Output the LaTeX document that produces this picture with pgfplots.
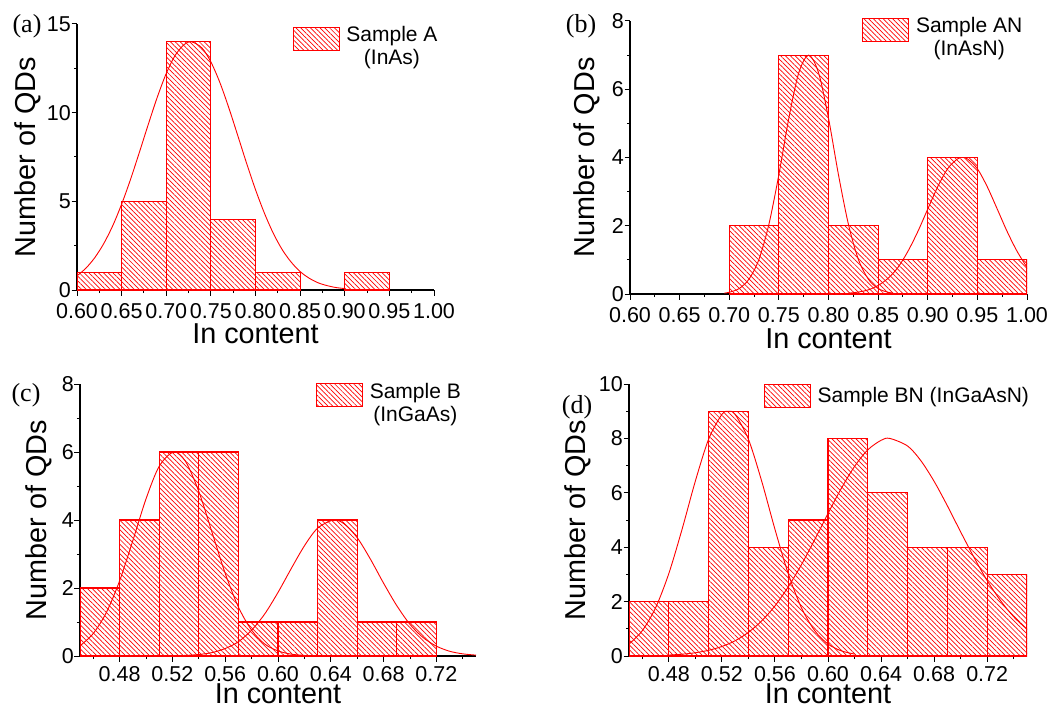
\documentclass[border=0pt]{standalone}
\usepackage{fontspec}
\setmainfont{Liberation Sans}
\newfontfamily\timesf{Liberation Serif}
\usepackage{pgfplots}
\pgfplotsset{compat=1.18}
\usetikzlibrary{patterns.meta}

\pgfplotsset{
  qd/.style={
    scale only axis,
    axis lines*=left,
    tick align=outside,
    axis line style={line width=1.2pt},
    major tick length=5.5pt, minor tick length=3pt,
    tick style={line width=1pt, black},
    ymin=0,
    tick label style={font=\fontsize{21.5}{24}\selectfont},
    label style={font=\fontsize{28.8}{32}\selectfont, inner sep=0pt},
    /pgf/number format/assume math mode=true,
    x tick label style={/pgf/number format/.cd, fixed, fixed zerofill, precision=2, /tikz/.cd,
      anchor=base, inner sep=0.5pt},
    y tick label style={inner xsep=0.5pt},
    xlabel={In content},
    ylabel={Number of QDs},
    legend style={draw=none, fill=none, inner sep=0pt, outer sep=0pt,
      font=\fontsize{21}{22.6}\selectfont,
      nodes={align=center, inner sep=0pt}, column sep=6.7pt, anchor=north west},
    legend image code/.code={\draw[##1] (0pt,-4pt) rectangle (46pt,19pt);},
  },
  xlab/.style={xlabel style={at={(axis description cs:0.5,0)}, anchor=base, yshift=-#1}},
  ylab/.style={ylabel style={at={(axis description cs:#1,0.5)}, anchor=base}},
  xtl/.style={x tick label style={yshift=-#1}},
  bars/.style={ybar, bar width=#1, bar shift=0pt, draw=red, line width=1.1pt,
    pattern={Lines[angle=-45,distance=3.4pt,line width=0.7pt]}, pattern color=red},
  fit/.style={red, line width=0.9pt, smooth, no markers, forget plot},
}

\begin{document}
\begin{tikzpicture}
\useasboundingbox (0pt,0pt) rectangle (1059pt,-708pt);

% (a) Sample A
\begin{axis}[qd, at={(77pt,-290pt)}, anchor=south west, width=357pt, height=266pt,
  xmin=0.6, xmax=1.0, ymax=15, xlab=53.5pt, ylab=-0.115, xtl=23pt,
  xtick={0.60,0.65,0.70,0.75,0.80,0.85,0.90,0.95,1.00},
  minor xtick={0.625,0.675,0.725,0.775,0.825,0.875,0.925,0.975},
  ytick={0,5,10,15}, minor ytick={2.5,7.5,12.5},
  legend style={at={(0.604,0.99)}}]
\addplot[bars=0.05] coordinates {(0.625,1) (0.675,5) (0.725,14) (0.775,4) (0.825,1) (0.925,1)};
\addlegendentry{Sample A\\(InAs)}
\addplot[fit] coordinates {(0.60,0.80) (0.61,1.23) (0.62,1.83) (0.63,2.62) (0.64,3.62) (0.65,4.84)
  (0.66,6.24) (0.67,7.78) (0.68,9.36) (0.69,10.88) (0.70,12.21) (0.71,13.23) (0.72,13.84) (0.728,14.0)
  (0.74,13.65) (0.75,12.86) (0.76,11.71) (0.77,10.29) (0.78,8.73) (0.79,7.15) (0.80,5.66) (0.81,4.33)
  (0.82,3.19) (0.83,2.27) (0.84,1.57) (0.85,1.04) (0.86,0.67) (0.87,0.41) (0.88,0.25) (0.89,0.14) (0.90,0.08)};
\end{axis}

% (b) Sample AN
\begin{axis}[qd, at={(630pt,-294pt)}, anchor=south west, width=397pt, height=273pt,
  xmin=0.6, xmax=1.0, ymax=8, xlab=54pt, ylab=-0.09, xtl=23pt,
  xtick={0.60,0.65,0.70,0.75,0.80,0.85,0.90,0.95,1.00},
  minor xtick={0.625,0.675,0.725,0.775,0.825,0.875,0.925,0.975},
  ytick={0,2,4,6,8}, minor ytick={1,3,5,7},
  legend style={at={(0.585,1.012)}}]
\addplot[bars=0.05] coordinates {(0.725,2) (0.775,7) (0.825,2) (0.875,1) (0.925,4) (0.975,1)};
\addlegendentry{Sample AN\\(InAsN)}
\addplot[fit] coordinates {(0.695,0.027) (0.70,0.051) (0.71,0.16) (0.72,0.44) (0.73,1.02) (0.74,2.05)
  (0.75,3.50) (0.76,5.15) (0.77,6.48) (0.78,7.0) (0.79,6.48) (0.80,5.15) (0.81,3.50) (0.82,2.05)
  (0.83,1.02) (0.84,0.44) (0.85,0.16) (0.86,0.051) (0.865,0.027)};
\addplot[fit] coordinates {(0.82,0.024) (0.83,0.057) (0.84,0.12) (0.85,0.25) (0.86,0.46) (0.87,0.78)
  (0.88,1.25) (0.89,1.83) (0.90,2.49) (0.91,3.14) (0.92,3.67) (0.93,3.96) (0.935,4.0) (0.94,3.96)
  (0.95,3.67) (0.96,3.14) (0.97,2.49) (0.98,1.83) (0.99,1.25) (1.00,0.78)};
\end{axis}

% (c) Sample B
\begin{axis}[qd, at={(80pt,-656pt)}, anchor=south west, width=396pt, height=272pt,
  xmin=0.45, xmax=0.75, ymax=8, xlab=47.5pt, ylab=-0.085, xtl=20pt,
  xtick={0.48,0.52,0.56,0.60,0.64,0.68,0.72},
  minor xtick={0.46,0.50,0.54,0.58,0.62,0.66,0.70,0.74},
  ytick={0,2,4,6,8}, minor ytick={1,3,5,7},
  legend style={at={(0.596,1.003)}}]
\addplot[bars=0.03] coordinates {(0.465,2) (0.495,4) (0.525,6) (0.555,6) (0.585,1) (0.615,1)
  (0.645,4) (0.675,1) (0.705,1)};
\addlegendentry{Sample B\\(InGaAs)}
\addplot[fit] coordinates {(0.45,0.30) (0.46,0.66) (0.47,1.28) (0.48,2.21) (0.49,3.39) (0.50,4.62)
  (0.51,5.58) (0.521,6.0) (0.53,5.72) (0.54,4.84) (0.55,3.64) (0.56,2.43) (0.57,1.44) (0.58,0.76)
  (0.59,0.35) (0.60,0.15) (0.61,0.054) (0.62,0.018)};
\addplot[fit] coordinates {(0.51,0.002) (0.52,0.006) (0.53,0.018) (0.54,0.044) (0.55,0.10) (0.56,0.22)
  (0.57,0.42) (0.58,0.76) (0.59,1.24) (0.60,1.87) (0.61,2.57) (0.62,3.24) (0.63,3.76) (0.642,4.0)
  (0.65,3.89) (0.66,3.48) (0.67,2.85) (0.68,2.14) (0.69,1.48) (0.70,0.93) (0.71,0.54) (0.72,0.29)
  (0.73,0.14) (0.74,0.063) (0.75,0.026)};
\end{axis}

% (d) Sample BN
\begin{axis}[qd, at={(629pt,-656pt)}, anchor=south west, width=398pt, height=272pt,
  xmin=0.45, xmax=0.75, ymax=10, xlab=47.5pt, ylab=-0.11, xtl=20pt,
  xtick={0.48,0.52,0.56,0.60,0.64,0.68,0.72},
  minor xtick={0.46,0.50,0.54,0.58,0.62,0.66,0.70,0.74},
  ytick={0,2,4,6,8,10}, minor ytick={1,3,5,7,9},
  legend image code/.code={\draw[#1] (0pt,-12pt) rectangle (46pt,11pt);},
  legend style={at={(0.339,1.0)}}]
\addplot[bars=0.03] coordinates {(0.465,2) (0.495,2) (0.525,9) (0.555,4) (0.585,5) (0.615,8)
  (0.645,6) (0.675,4) (0.705,4) (0.735,3)};
\addlegendentry{Sample BN (InGaAsN)}
\addplot[fit] coordinates {(0.45,0.44) (0.46,0.93) (0.47,1.77) (0.48,3.03) (0.49,4.66) (0.50,6.43)
  (0.51,7.97) (0.52,8.88) (0.525,9.0) (0.53,8.88) (0.54,7.97) (0.55,6.43) (0.56,4.66) (0.57,3.03)
  (0.58,1.77) (0.59,0.93) (0.60,0.44) (0.61,0.19) (0.62,0.07)};
\addplot[fit] coordinates {(0.48,0.035) (0.49,0.066) (0.50,0.12) (0.51,0.21) (0.52,0.35) (0.53,0.56)
  (0.54,0.87) (0.55,1.29) (0.56,1.84) (0.57,2.54) (0.58,3.36) (0.59,4.28) (0.60,5.24) (0.61,6.16)
  (0.62,6.97) (0.63,7.58) (0.64,7.93) (0.6465,8.0) (0.66,7.72) (0.67,7.18) (0.68,6.42) (0.69,5.52)
  (0.70,4.56) (0.71,3.63) (0.72,2.77) (0.73,2.04) (0.74,1.44) (0.75,0.98)};
\end{axis}

\node[font=\timesf\fontsize{26}{28}\selectfont] at (27pt,-26pt) {(a)};
\node[font=\timesf\fontsize{26}{28}\selectfont] at (581pt,-26pt) {(b)};
\node[font=\timesf\fontsize{26}{28}\selectfont] at (26pt,-395pt) {(c)};
\node[font=\timesf\fontsize{26}{28}\selectfont] at (577pt,-407pt) {(d)};
\end{tikzpicture}
\end{document}
